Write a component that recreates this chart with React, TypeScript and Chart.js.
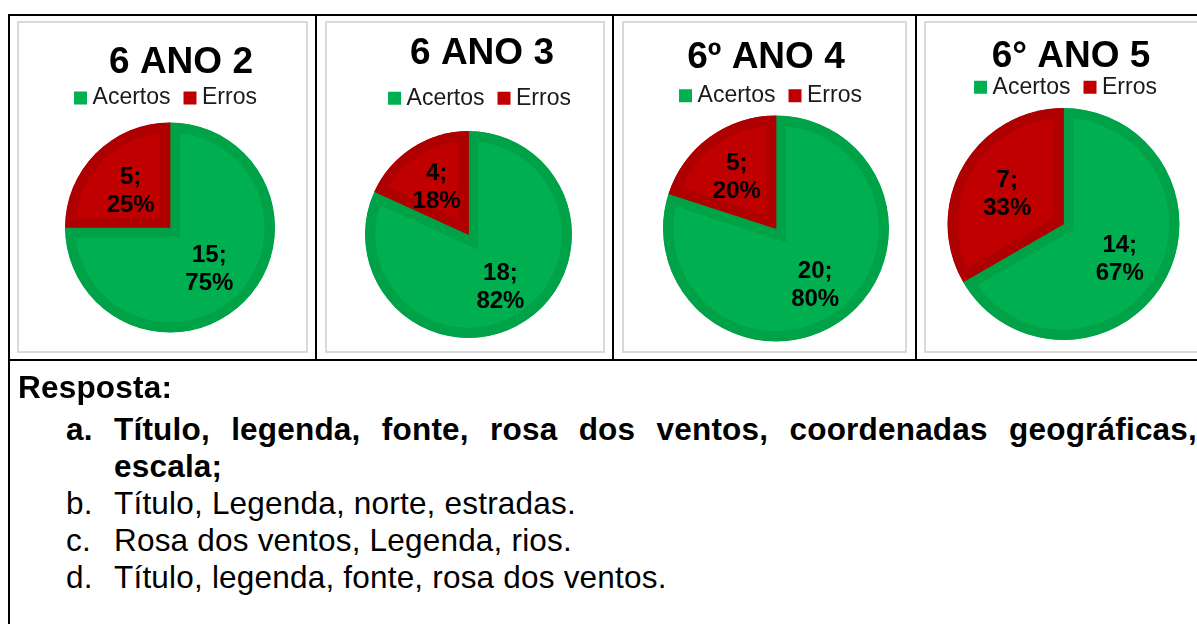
import React, { useEffect, useRef } from "react";
import { Chart, registerables } from "chart.js";

Chart.register(...registerables);

// ---------- data ----------
const categories = ["Acertos", "Erros"];
const chartTitles = ["6 ANO 2", "6 ANO 3", "6º ANO 4", "6° ANO 5"];
const acertos = [15, 18, 20, 14];
const erros = [5, 4, 5, 7];

const answerHeading = "Resposta:";
const answerMarkers = ["a.", "b.", "c.", "d."];
const answerA1 = "Título, legenda, fonte, rosa dos ventos, coordenadas geográficas,";
const answerA2 = "escala;";
const answerB = "Título, Legenda, norte, estradas.";
const answerC = "Rosa dos ventos, Legenda, rios.";
const answerD = "Título, legenda, fonte, rosa dos ventos.";

// ---------- styles ----------
const FONT = '"Liberation Sans", Arial, Helvetica, sans-serif';
const FILL = ["#00B050", "#C00000"];
const EDGE = ["#00A248", "#AE0000"];
const CANVAS_TOP = 23;
const CANVAS_H = 360;

// per-chart layout (canvas x/width, paddings, pie radius, offsets)
const LAYOUT = [
  { x: 18, w: 288, tTop: 17.3, tBot: -17.2, pl: 32, pr: 16, pb: 47.5, r: 105, titleDx: 11, legendDx: -1.5, lr: 0.53 },
  { x: 326, w: 277, tTop: 8.8, tBot: -8.4, pl: 22.5, pr: 14.5, pb: 33.8, r: 103.5, titleDx: 13.5, legendDx: 14, lr: 0.57 },
  { x: 623, w: 283, tTop: 12.8, tBot: -15, pl: 33, pr: 10, pb: 43.2, r: 113, titleDx: -10, legendDx: -2.5, lr: 0.59 },
  { x: 925, w: 284, tTop: 11.5, tBot: -22.1, pl: 18.5, pr: 25.5, pb: 43.8, r: 116, titleDx: 7.5, legendDx: 5, lr: 0.56 },
];
const BOXES = [
  { x: 17, w: 291 },
  { x: 325, w: 280 },
  { x: 622, w: 285 },
  { x: 924, w: 300 },
];

const shiftPlugin = {
  id: "shiftBoxes",
  afterLayout(chart: any, _args: any, opts: any) {
    const t = chart.titleBlock;
    if (t) {
      t.left += opts.titleDx || 0;
      t.right += opts.titleDx || 0;
    }
    const l = chart.legend;
    if (l) {
      l.left += opts.legendDx || 0;
      l.right += opts.legendDx || 0;
    }
  },
};

const labelPlugin = {
  id: "sliceLabels",
  afterDatasetsDraw(chart: any, _args: any, opts: any) {
    const ctx = chart.ctx;
    const values = chart.data.datasets[0].data as number[];
    const total = values.reduce((a, b) => a + b, 0);
    const meta = chart.getDatasetMeta(0);
    const ratio = opts.ratio || 0.56;
    ctx.save();
    ctx.font = `bold 24px ${FONT}`;
    ctx.fillStyle = "#000";
    ctx.textAlign = "center";
    ctx.textBaseline = "middle";
    meta.data.forEach((arc: any, i: number) => {
      const p = arc.getProps(["x", "y", "startAngle", "endAngle", "outerRadius"], true);
      const mid = (p.startAngle + p.endAngle) / 2;
      const rr = p.outerRadius * ratio;
      const cx = p.x + Math.cos(mid) * rr;
      const cy = p.y + Math.sin(mid) * rr + 3;
      const pct = Math.round((values[i] / total) * 100);
      ctx.fillText(`${values[i]};`, cx, cy - 14);
      ctx.fillText(`${pct}%`, cx, cy + 14);
    });
    ctx.restore();
  },
};

function PieCell({ idx }: { idx: number }) {
  const ref = useRef<HTMLCanvasElement>(null);
  const L = LAYOUT[idx];
  useEffect(() => {
    if (!ref.current) return;
    const defaultGen = (Chart as any).overrides.pie.plugins.legend.labels.generateLabels;
    const chart = new Chart(ref.current, {
      type: "pie",
      data: {
        labels: categories,
        datasets: [
          {
            data: [acertos[idx], erros[idx]],
            backgroundColor: FILL,
            borderColor: EDGE,
            borderWidth: 10,
            borderAlign: "inner",
            borderJoinStyle: "miter",
            radius: L.r,
            hoverOffset: 0,
            clip: false,
          } as any,
        ],
      },
      options: {
        animation: false,
        responsive: false,
        events: [],
        layout: { padding: { left: L.pl, right: L.pr, top: 0, bottom: L.pb } },
        plugins: {
          tooltip: { enabled: false },
          title: {
            display: true,
            text: chartTitles[idx],
            color: "#000",
            font: { family: FONT, size: 37, weight: "bold", lineHeight: 1.2 },
            padding: { top: L.tTop, bottom: L.tBot },
          },
          legend: {
            display: true,
            position: "top",
            labels: {
              usePointStyle: true,
              pointStyle: "rect",
              boxWidth: 1,
              boxHeight: 13,
              padding: 19,
              color: "#1a1a1a",
              font: { family: FONT, size: 23 },
              generateLabels: (c: any) =>
                defaultGen(c).map((it: any) => ({ ...it, lineWidth: 0 })),
            },
          },
          shiftBoxes: { titleDx: L.titleDx, legendDx: L.legendDx },
          sliceLabels: { ratio: L.lr },
        } as any,
      },
      plugins: [shiftPlugin, labelPlugin],
    });
    return () => chart.destroy();
  }, [idx]);
  return (
    <canvas
      ref={ref}
      width={L.w}
      height={CANVAS_H}
      style={{ position: "absolute", left: L.x, top: CANVAS_TOP, width: L.w, height: CANVAS_H }}
    />
  );
}

const line = (style: React.CSSProperties) => (
  <div style={{ position: "absolute", background: "#000", ...style }} />
);

const TEXT_SIZE = 31.5;
const LINE_H = 37;
const BASE_OFF = 29.4; // baseline offset inside a 37px line box
const MARK_X = 66;
const ITEM_X = 114;

export default function App() {
  useEffect(() => {
    document.body.style.margin = "0";
  }, []);
  const rowTop = (baseline: number) => baseline - BASE_OFF;
  const textStyle: React.CSSProperties = {
    position: "absolute",
    fontFamily: FONT,
    fontSize: TEXT_SIZE,
    lineHeight: `${LINE_H}px`,
    letterSpacing: "0.2px",
    color: "#000",
    whiteSpace: "nowrap",
  };
  return (
    <div
      style={{
        position: "fixed",
        left: 0,
        top: 0,
        width: 1197,
        height: 624,
        overflow: "hidden",
        background: "#fff",
        fontFamily: FONT,
      }}
    >
      {BOXES.map((b, i) => (
        <div
          key={"b" + i}
          style={{
            position: "absolute",
            left: b.x,
            top: 21,
            width: b.w,
            height: 332,
            border: "2px solid #dadada",
            boxSizing: "border-box",
          }}
        />
      ))}
      {line({ left: 8, top: 14, width: 1300, height: 2 })}
      {line({ left: 8, top: 14, width: 2, height: 700 })}
      {line({ left: 315, top: 14, width: 2, height: 347 })}
      {line({ left: 612, top: 14, width: 2, height: 347 })}
      {line({ left: 915, top: 14, width: 2, height: 347 })}
      {line({ left: 8, top: 359, width: 1300, height: 2 })}

      {LAYOUT.map((_, i) => (
        <PieCell key={i} idx={i} />
      ))}

      <div style={{ ...textStyle, left: 18, top: rowTop(398), fontWeight: "bold" }}>{answerHeading}</div>

      <div style={{ ...textStyle, left: MARK_X, top: rowTop(440), fontWeight: "bold" }}>{answerMarkers[0]}</div>
      <div
        style={{
          ...textStyle,
          left: ITEM_X,
          top: rowTop(440),
          width: 1197 - ITEM_X,
          fontWeight: "bold",
          whiteSpace: "normal",
          textAlign: "justify",
          textAlignLast: "justify" as any,
        }}
      >
        {answerA1}
      </div>
      <div style={{ ...textStyle, left: ITEM_X, top: rowTop(477), fontWeight: "bold" }}>{answerA2}</div>

      <div style={{ ...textStyle, left: MARK_X, top: rowTop(514) }}>{answerMarkers[1]}</div>
      <div style={{ ...textStyle, left: ITEM_X, top: rowTop(514) }}>{answerB}</div>
      <div style={{ ...textStyle, left: MARK_X, top: rowTop(551) }}>{answerMarkers[2]}</div>
      <div style={{ ...textStyle, left: ITEM_X, top: rowTop(551) }}>{answerC}</div>
      <div style={{ ...textStyle, left: MARK_X, top: rowTop(588) }}>{answerMarkers[3]}</div>
      <div style={{ ...textStyle, left: ITEM_X, top: rowTop(588) }}>{answerD}</div>
    </div>
  );
}
